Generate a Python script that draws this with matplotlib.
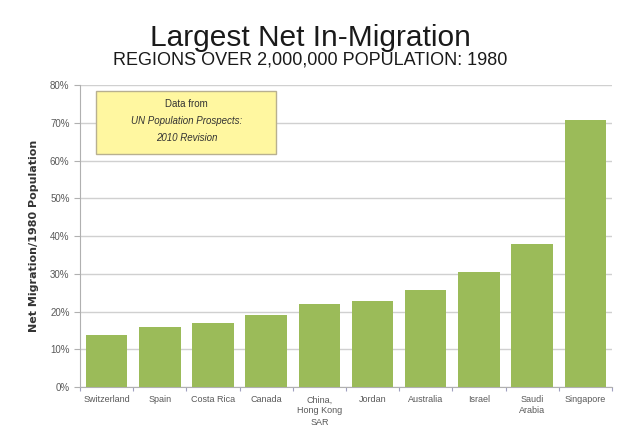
import matplotlib
matplotlib.use("Agg")
import matplotlib.pyplot as plt
from matplotlib.ticker import PercentFormatter

regions = ["Switzerland", "Spain", "Costa Rica", "Canada", "China,\nHong Kong\nSAR",
           "Jordan", "Australia", "Israel", "Saudi\nArabia", "Singapore"]
net_migration = [13.9, 15.9, 17.0, 19.2, 21.9, 22.7, 25.6, 30.6, 37.8, 70.8]
y_ticks = [0, 10, 20, 30, 40, 50, 60, 70, 80]

plt.rcParams['font.family'] = ['Liberation Sans', 'DejaVu Sans']

fig = plt.figure(figsize=(6.17, 4.37), dpi=100)
ax = fig.add_axes([0.1297, 0.1144, 0.862, 0.691])

x = range(len(regions))
ax.bar(x, net_migration, width=0.78, color="#9BBB59", zorder=3)

ax.set_xlim(-0.5, len(regions) - 0.5)
ax.set_ylim(0, 80)
ax.set_yticks(y_ticks)
ax.yaxis.set_major_formatter(PercentFormatter(decimals=0))
ax.grid(axis='y', color="#D0D0D0", linewidth=1, zorder=0)

ax.set_xticks([i - 0.5 for i in range(len(regions) + 1)], minor=False)
ax.set_xticklabels([])
ax.set_xticks(list(x), minor=True)
ax.set_xticklabels(regions, minor=True, fontsize=6.5, color="#595959", linespacing=1.3)
ax.tick_params(axis='x', which='minor', length=0, pad=6)
ax.tick_params(axis='x', which='major', length=3, color="#A0A0C0")
ax.tick_params(axis='y', labelsize=7, labelcolor="#595959", length=4, color="#B0B0B0")

for s in ['top', 'right']:
    ax.spines[s].set_visible(False)
ax.spines['left'].set_color("#B0B0B0")
ax.spines['bottom'].set_color("#B0B0B0")

ax.set_ylabel("Net Migration/1980 Population", fontsize=8, fontweight='bold',
              color="#333333", labelpad=8, family=['DejaVu Sans'])

fig.text(0.503, 0.912, "Largest Net In-Migration", ha='center', va='center',
         fontsize=21.5, color="#1a1a1a")
fig.text(0.503, 0.862, "REGIONS OVER 2,000,000 POPULATION: 1980", ha='center',
         va='center', fontsize=13, color="#1a1a1a")

# source box
box = plt.Rectangle((0.156, 0.647), 0.292, 0.144, transform=fig.transFigure,
                    facecolor="#FFF7A0", edgecolor="#B8B090", linewidth=1, zorder=1)
fig.patches.append(box)
fig.text(0.302, 0.762, "Data from", ha='center', va='center', fontsize=7,
         color="#333333", zorder=6)
fig.text(0.302, 0.723, "UN Population Prospects:", ha='center', va='center', fontsize=7,
         style='italic', color="#333333", zorder=6)
fig.text(0.302, 0.684, "2010 Revision", ha='center', va='center', fontsize=7,
         style='italic', color="#333333", zorder=6)

fig.savefig("out.png", dpi=100, facecolor="white")
